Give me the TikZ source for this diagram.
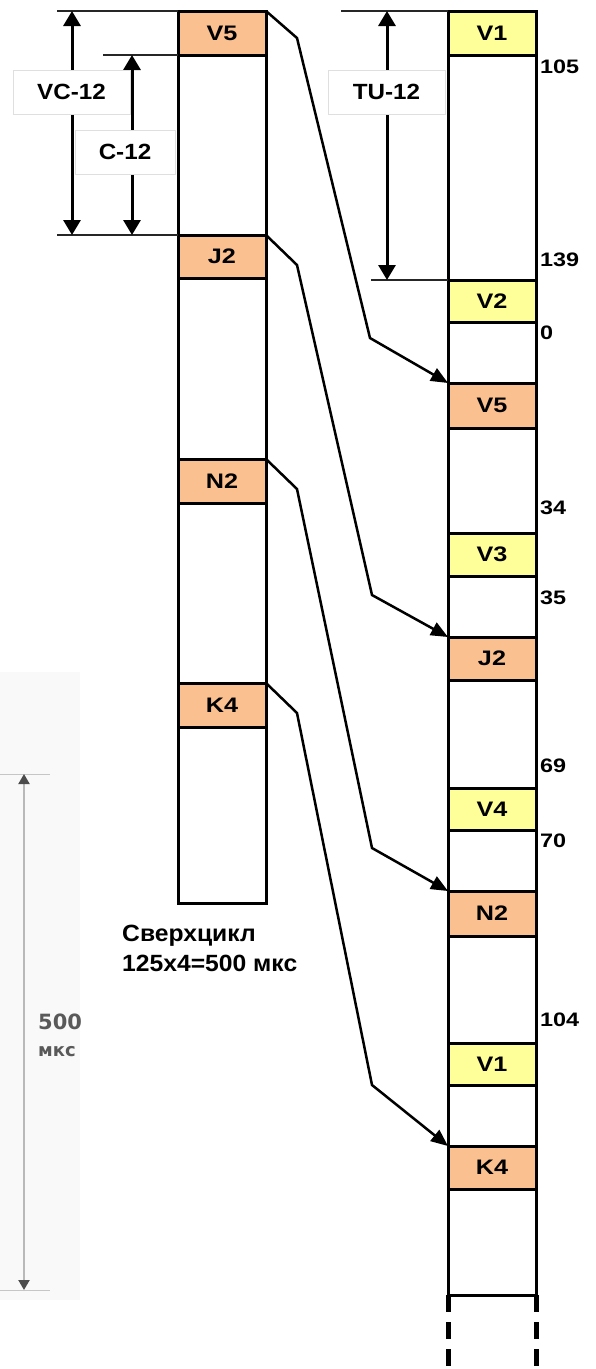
\documentclass[tikz,border=0pt]{standalone}
\usepackage{xcolor}
\usepackage{tikz}
\usepackage{fontspec}
\setmainfont{Liberation Sans}
\newfontfamily\widefont[FakeStretch=1.2]{Liberation Sans}
\newfontfamily\tagfont[FakeStretch=1.1]{Liberation Sans}
\newfontfamily\capfont[FakeStretch=1.05]{Liberation Sans}
\newfontfamily\shotfont{DejaVu Sans}
\usetikzlibrary{arrows.meta, positioning}
\definecolor{tuorange}{RGB}{250,192,144}
\definecolor{vyellow}{RGB}{255,255,153}

\begin{document}
\begin{tikzpicture}[x=1pt, y=-1pt]
    \tikzstyle{slot} = [rectangle, draw, line width=3pt, minimum width=88pt, inner sep=0pt, outer sep=0pt, anchor=north west, font=\widefont\bfseries\fontsize{21}{21}\selectfont]
    \tikzstyle{tu} = [fill=tuorange]
    \tikzstyle{vt} = [fill=vyellow]
    \tikzstyle{num} = [anchor=west, inner sep=0pt, font=\widefont\bfseries\fontsize{19.5}{19.5}\selectfont]
    \tikzstyle{tag} = [rectangle, draw=gray!25, line width=0.6pt, fill=white, minimum height=44pt, font=\tagfont\bfseries\fontsize{22}{22}\selectfont]
    \tikzstyle{tick} = [line width=1.2pt, black!85]
    \tikzstyle{dim} = [line width=3pt, {Triangle[length=15pt,width=17pt]}-{Triangle[length=15pt,width=17pt]}]
    \tikzstyle{link} = [line width=2.5pt, line join=miter, -{Triangle[length=17pt,width=14pt]}]
    \tikzstyle{tail} = [line width=5pt, dash pattern=on 17pt off 10pt]
    \tikzstyle{caption} = [anchor=base west, inner sep=0pt, font=\capfont\bfseries\fontsize{23.5}{23.5}\selectfont]

    \useasboundingbox (0,0) rectangle (596,1369);

    % piece of another slide on the left
    \fill[gray!5] (0,672) rectangle (80,1300);
    \coordinate (sT) at (24,774);
    \coordinate (sB) at (24,1290);
    \draw[gray!45, line width=0.8pt] (0,774) -- (50,774);
    \draw[gray!45, line width=0.8pt] (0,1290) -- (50,1290);
    \draw[gray!55, line width=2pt, {Triangle[length=10pt,width=11pt,black!70]}-{Triangle[length=10pt,width=11pt,black!70]}] (sT) -- (sB);
    \begin{scope}
        \clip (0,672) rectangle (80,1300);
        \node[anchor=west, inner sep=0pt, text=black!65, font=\shotfont\bfseries\fontsize{21}{21}\selectfont] (s500) at (38,1022) {500};
        \node[anchor=west, inner sep=0pt, text=black!65, font=\shotfont\bfseries\fontsize{18}{18}\selectfont] (smks) at (38,1052) {мкс};
    \end{scope}

    % multiframe
    \node[slot, tu, minimum height=44pt] (lv5) at (178,11) {V5};
    \node[slot, minimum height=180pt] (lg1) at (178,55) {};
    \node[slot, tu, minimum height=43pt] (lj2) at (178,235) {J2};
    \node[slot, minimum height=181pt] (lg2) at (178,278) {};
    \node[slot, tu, minimum height=44pt] (ln2) at (178,459) {N2};
    \node[slot, minimum height=180pt] (lg3) at (178,503) {};
    \node[slot, tu, minimum height=44pt] (lk4) at (178,683) {K4};
    \node[slot, minimum height=176pt] (lg4) at (178,727) {};

    \node[caption] (cap1) at (122,941) {Сверхцикл};
    \node[caption] (cap2) at (122,971) {125x4=500 мкс};

    % TU-12 stream
    \node[slot, vt, minimum height=44pt] (rv1) at (448,11) {V1};
    \node[slot, minimum height=225pt] (rg1) at (448,55) {};
    \node[slot, vt, minimum height=42pt] (rv2) at (448,280) {V2};
    \node[slot, minimum height=61pt] (rg2) at (448,322) {};
    \node[slot, tu, minimum height=45pt] (rv5) at (448,383) {V5};
    \node[slot, minimum height=105pt] (rg3) at (448,428) {};
    \node[slot, vt, minimum height=43pt] (rv3) at (448,533) {V3};
    \node[slot, minimum height=61pt] (rg4) at (448,576) {};
    \node[slot, tu, minimum height=43pt] (rj2) at (448,637) {J2};
    \node[slot, minimum height=108pt] (rg5) at (448,680) {};
    \node[slot, vt, minimum height=42pt] (rv4) at (448,788) {V4};
    \node[slot, minimum height=61pt] (rg6) at (448,830) {};
    \node[slot, tu, minimum height=45pt] (rn2) at (448,891) {N2};
    \node[slot, minimum height=107pt] (rg7) at (448,936) {};
    \node[slot, vt, minimum height=42pt] (rv1b) at (448,1043) {V1};
    \node[slot, minimum height=61pt] (rg8) at (448,1085) {};
    \node[slot, tu, minimum height=43pt] (rk4) at (448,1146) {K4};
    \node[slot, minimum height=106pt] (rg9) at (448,1189) {};

    \draw[tail] (rg9.south west) -- ++(0,74);
    \draw[tail] (rg9.south east) -- ++(0,74);

    \node[num] (n105) at (540,67) {105};
    \node[num] (n139) at (540,260) {139};
    \node[num] (n0) at (540,333) {0};
    \node[num] (n34) at (540,508) {34};
    \node[num] (n35) at (540,598) {35};
    \node[num] (n69) at (540,766) {69};
    \node[num] (n70) at (540,841) {70};
    \node[num] (n104) at (540,1020) {104};

    % sizes
    \coordinate (vcT) at (57,11);
    \coordinate (vcB) at (57,235);
    \coordinate (cT) at (103,55);
    \coordinate (tuT) at (341,11);
    \coordinate (tuB) at (371,280);
    \draw[tick] (vcT) -- (lv5.north west);
    \draw[tick] (vcB) -- (lj2.north west);
    \draw[tick] (cT) -- (lg1.north west);
    \draw[tick] (tuT) -- (rv1.north west);
    \draw[tick] (tuB) -- (rv2.north west);

    \coordinate (vc1) at (72,11);
    \coordinate (vc2) at (72,235);
    \coordinate (c1) at (132,55);
    \coordinate (c2) at (132,235);
    \coordinate (tu1) at (387,11);
    \coordinate (tu2) at (387,280);
    \draw[dim] (vc1) -- (vc2);
    \draw[dim] (c1) -- (c2);
    \draw[dim] (tu1) -- (tu2);

    \node[tag, minimum width=117pt] (vc) at (71.5,92) {VC-12};
    \node[tag, minimum width=100pt] (c) at (125,152) {C-12};
    \node[tag, minimum width=117pt] (tu) at (386.5,92) {TU-12};

    % mapping of the TU-12
    \coordinate (a1) at (297,38);
    \coordinate (a2) at (370,338);
    \coordinate (b1) at (297,265);
    \coordinate (b2) at (372,595);
    \coordinate (d1) at (297,489);
    \coordinate (d2) at (372,848);
    \coordinate (e1) at (297,713);
    \coordinate (e2) at (372,1085);
    \draw[link] (lv5.north east) -- (a1) -- (a2) -- (rv5.north west);
    \draw[link] (lj2.north east) -- (b1) -- (b2) -- (rj2.north west);
    \draw[link] (ln2.north east) -- (d1) -- (d2) -- (rn2.north west);
    \draw[link] (lk4.north east) -- (e1) -- (e2) -- (rk4.north west);
\end{tikzpicture}
\end{document}
